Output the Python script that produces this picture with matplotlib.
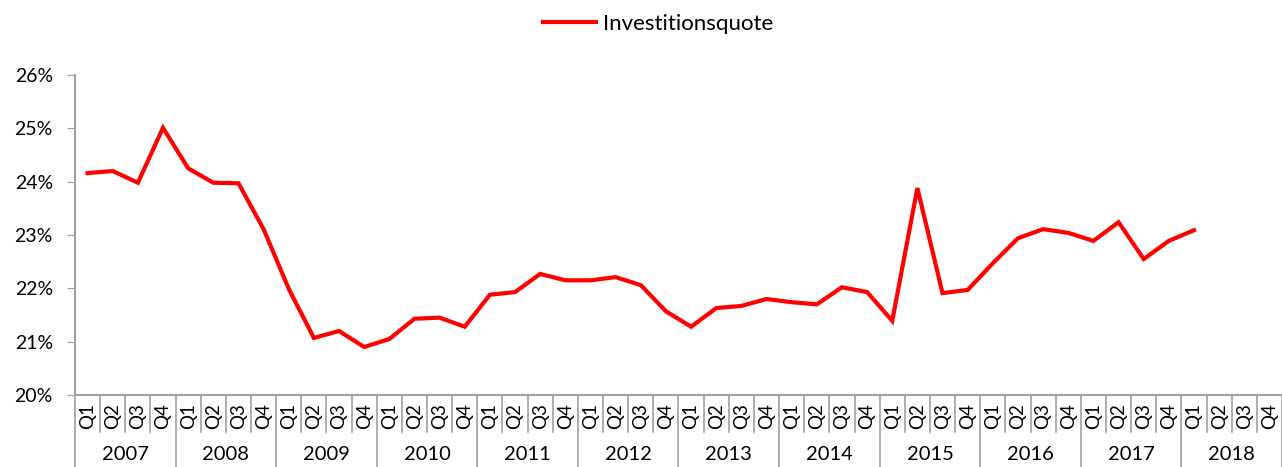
import matplotlib
matplotlib.use("Agg")
import matplotlib.pyplot as plt
from matplotlib.lines import Line2D
import matplotlib.transforms as mtransforms

years = [str(y) for y in range(2007, 2019)]
quarters = ["Q1", "Q2", "Q3", "Q4"]
series_name = "Investitionsquote"
values = [
    24.16, 24.20, 23.98, 25.01,
    24.25, 23.98, 23.97, 23.11,
    21.99, 21.07, 21.20, 20.90,
    21.05, 21.43, 21.45, 21.28,
    21.88, 21.93, 22.27, 22.15,
    22.15, 22.21, 22.06, 21.57,
    21.28, 21.63, 21.67, 21.80,
    21.74, 21.70, 22.02, 21.93,
    21.39, 23.88, 21.91, 21.97,
    22.47, 22.94, 23.11, 23.04,
    22.89, 23.24, 22.55, 22.89,
    23.09,
]
y_ticks = [20, 21, 22, 23, 24, 25, 26]

plt.rcParams['font.family'] = ['Lato', 'DejaVu Sans']

W, H = 1282, 467
fig = plt.figure(figsize=(W / 100, H / 100), dpi=100)
ax = fig.add_axes([75 / W, 1 - 395 / H, (W - 75) / W, 320 / H])

n_q = len(years) * len(quarters)
x = list(range(len(values)))
ax.plot(x, values, color="#ff0000", lw=3, solid_joinstyle="miter", label=series_name)

ax.set_xlim(-0.5, n_q - 0.5)
ax.set_ylim(20, 26)
ax.set_yticks(y_ticks)
ax.set_yticklabels([f"{v}%" for v in y_ticks], fontsize=14)
ax.tick_params(axis="y", length=6, color="#a0a0a0", pad=10)
ax.set_xticks([])

for s in ["top", "right"]:
    ax.spines[s].set_visible(False)
for s in ["left", "bottom"]:
    ax.spines[s].set_color("#a0a0a0")
    ax.spines[s].set_linewidth(1.5)

trans = mtransforms.blended_transform_factory(ax.transData, fig.transFigure)
def fy(py):
    return 1 - py / H

gray = "#a0a0a0"
for k in range(n_q + 1):
    xb = k - 0.5
    if k % 4 == 0:
        y0 = fy(467)
    else:
        y0 = fy(432)
    ax.add_line(Line2D([xb, xb], [fy(395), y0], transform=trans, color=gray,
                       lw=1.2, clip_on=False))

for i, yr in enumerate(years):
    for j, q in enumerate(quarters):
        k = i * 4 + j
        ax.text(k, fy(416), q, transform=trans, rotation=90, ha="center",
                va="center", fontsize=13.5)
    ax.text(i * 4 + 1.5, fy(455), yr, transform=trans, ha="center",
            va="center", fontsize=14.5)

leg = fig.legend(loc="center", bbox_to_anchor=(658 / W, 1 - 24 / H), frameon=False,
                 fontsize=16, handlelength=2.4, handletextpad=0.3)

fig.savefig("out.png", dpi=100)
